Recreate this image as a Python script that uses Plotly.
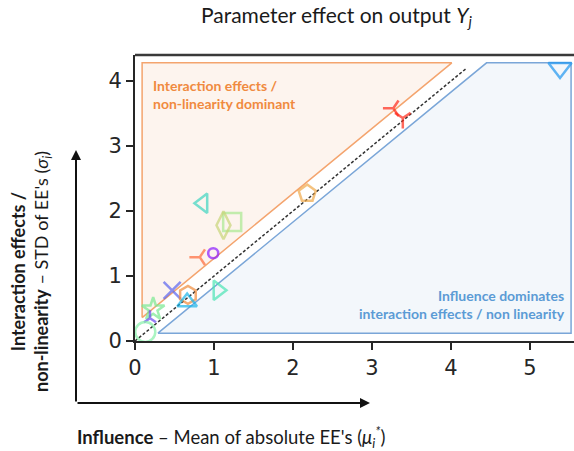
import plotly.graph_objects as go

# Morris screening results: mean of absolute elementary effects vs their STD
mu_star = [5.38, 3.27, 3.39, 2.18, 0.86, 1.23, 1.12, 0.82, 0.99, 1.05, 0.47, 0.67, 0.66, 0.23, 0.19, 0.13]
sigma = [4.20, 3.58, 3.43, 2.27, 2.12, 1.83, 1.78, 1.29, 1.35, 0.78, 0.78, 0.71, 0.60, 0.49, 0.35, 0.14]
symbols = ["triangle-down-open", "y-left", "y-down", "pentagon-open", "triangle-left-open",
           "square-open", "diamond-tall-open", "y-left", "circle-open", "triangle-right-open",
           "x-thin", "hexagon-open", "triangle-up-open", "star-open", "y-up", "circle-open"]
colors = ["#1e96f0", "#ff2a1a", "#ff2a1a", "#f0a848", "#3cd4c0",
          "#a8e890", "#c8d478", "#ff6a3a", "#8a1aff", "#48e4b4",
          "#5a64f0", "#f08a3a", "#18b4e8", "#78e890", "#6a48f0", "#84f0a8"]
sizes = [20, 13, 13, 18, 17, 18, 20, 13, 10, 17, 17, 18, 17, 17, 10, 20]

# Region boundaries (offsets from the 1:1 line)
upper_offset = 0.27
lower_offset = -0.17
x_max = 5.557
y_max = 4.40

fig = go.Figure()

# Interaction / non-linearity dominant region (above the diagonal)
ox = [0.09, 0.09, 4.28 - upper_offset, 0.09]
oy = [0.09 + upper_offset, 4.28, 4.28, 0.09 + upper_offset]
fig.add_trace(go.Scatter(x=ox, y=oy, mode="lines", fill="toself",
                         fillcolor="#fdf4ee", line=dict(color="#f4a46e", width=1.5),
                         hoverinfo="skip", showlegend=False))

# Influence dominant region (below the diagonal)
bx = [0.12 - lower_offset, 5.52, 5.52, 4.28 - lower_offset, 0.12 - lower_offset]
by = [0.12, 0.12, 4.28, 4.28, 0.12]
fig.add_trace(go.Scatter(x=bx, y=by, mode="lines", fill="toself",
                         fillcolor="#f3f7fb", line=dict(color="#7aa6d8", width=1.5),
                         hoverinfo="skip", showlegend=False))

# 1:1 reference line
fig.add_trace(go.Scatter(x=[0, 4.2], y=[0, 4.2], mode="lines",
                         line=dict(color="#333333", width=1.5, dash="3px,2px"),
                         hoverinfo="skip", showlegend=False))

# Parameters
fig.add_trace(go.Scatter(x=mu_star, y=sigma, mode="markers",
                         marker=dict(symbol=symbols, color=colors, size=sizes,
                                     line=dict(width=2.5, color=colors)),
                         showlegend=False))

tick_font = dict(family="DejaVu Sans", size=21, color="#262626")
fig.update_xaxes(range=[0, x_max], tickvals=[0, 1, 2, 3, 4, 5], showgrid=False,
                 zeroline=False, showline=True, linecolor="#262626", linewidth=2,
                 ticks="outside", ticklen=7, tickwidth=1.5, tickcolor="#262626",
                 tickfont=tick_font)
fig.update_yaxes(range=[0, y_max], tickvals=[0, 1, 2, 3, 4], showgrid=False,
                 zeroline=False, showline=True, linecolor="#262626", linewidth=2,
                 ticks="outside", ticklen=7, tickwidth=1.5, tickcolor="#262626",
                 tickfont=tick_font)

# Top border of the frame
fig.add_shape(type="line", xref="paper", yref="paper", x0=0, x1=1, y0=1, y1=1,
              line=dict(color="#3a3a3a", width=2.5))

label_font = "Lato"
annotations = [
    dict(text="Parameter effect on output <i>Y<sub>j</sub></i>", xref="paper", yref="paper",
         x=0.46, y=1.135, xanchor="center", yanchor="middle", showarrow=False,
         font=dict(family=label_font, size=21, color="#1a1a1a")),
    dict(text="<b>Interaction effects /<br>non-linearity dominant</b>", x=0.2, y=4.1,
         xanchor="left", yanchor="top", align="left", showarrow=False,
         font=dict(family=label_font, size=14, color="#f08a40")),
    dict(text="<b>Influence dominates<br>interaction effects / non linearity</b>", x=5.47, y=0.86,
         xanchor="right", yanchor="top", align="right", showarrow=False,
         font=dict(family=label_font, size=14, color="#5b9bd5")),
    dict(text="<b>Influence</b> – Mean of absolute EE's (<i>μ<sub>i</sub><sup>*</sup></i>)",
         xref="paper", yref="paper", x=(231 - 135) / 439, y=-(437 - 341) / 286,
         xanchor="center", yanchor="middle", showarrow=False,
         font=dict(family=label_font, size=18.5, color="#1a1a1a")),
    dict(text="<b>Interaction effects /</b><br><b>non-linearity</b> – STD of EE's (<i>σ<sub>i</sub></i>)",
         xref="paper", yref="paper", x=(31 - 135) / 439, y=(341 - 272) / 286,
         xanchor="center", yanchor="middle", textangle=-90, showarrow=False,
         font=dict(family=label_font, size=18, color="#1a1a1a")),
    # Axis arrows
    dict(text="", xref="paper", yref="paper", x=(76 - 135) / 439, y=(341 - 150) / 286,
         ax=0, ay=253, axref="pixel", ayref="pixel", showarrow=True,
         arrowhead=2, arrowsize=1, arrowwidth=2, arrowcolor="#111111"),
    dict(text="", xref="paper", yref="paper", x=(370 - 135) / 439, y=(341 - 403) / 286,
         ax=-294, ay=0, axref="pixel", ayref="pixel", showarrow=True,
         arrowhead=2, arrowsize=1, arrowwidth=2, arrowcolor="#111111"),
]
fig.update_layout(
    width=574, height=451,
    margin=dict(l=135, r=0, t=55, b=110),
    paper_bgcolor="white", plot_bgcolor="white",
    annotations=annotations,
)

fig.write_html("out.html")
